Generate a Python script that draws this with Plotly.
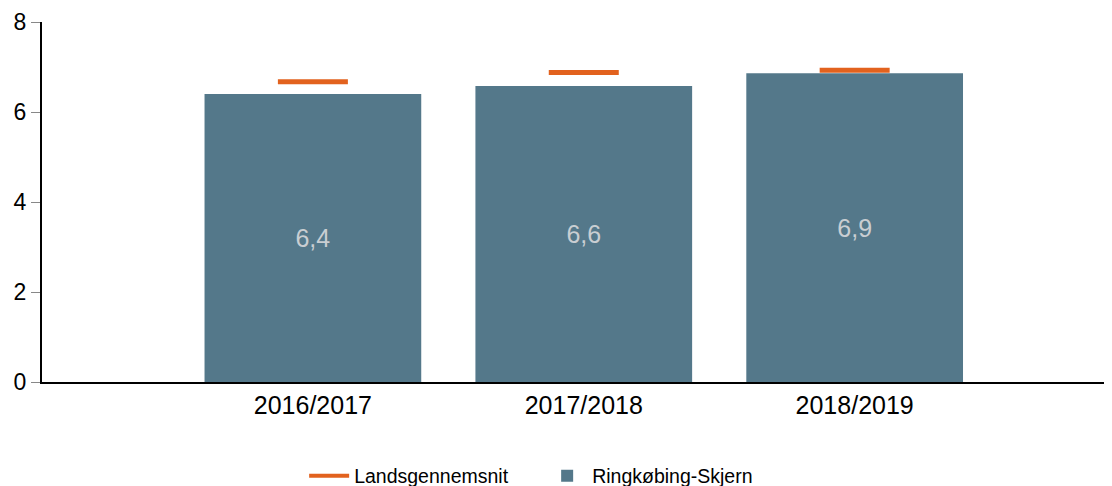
import plotly.graph_objects as go

categories = ["2016/2017", "2017/2018", "2018/2019"]
kommune_values = [6.4, 6.58, 6.86]
lands_values = [6.67, 6.88, 6.93]
kommune_name = "Ringkøbing-Skjern"
lands_name = "Landsgennemsnit"

bar_color = "#54788A"
orange = "#E2621E"
font_family = "Arial, Liberation Sans, sans-serif"

fig = go.Figure()

fig.add_trace(go.Bar(
    x=categories, y=kommune_values, name=kommune_name,
    marker=dict(color=bar_color, line=dict(width=0)),
    width=0.8,
    texttemplate="%{y:.1f}", textposition="inside",
    insidetextanchor="middle",
    textfont=dict(color="#C9CED2", size=25, family=font_family),
))
fig.add_trace(go.Scatter(
    x=categories, y=lands_values, mode="markers", name=lands_name,
    marker=dict(symbol="line-ew", size=50, color=orange,
                line=dict(color=orange, width=5)),
    showlegend=False, hoverinfo="skip",
))
fig.add_trace(go.Scatter(
    x=[None], y=[None], mode="lines", name=lands_name,
    line=dict(color=orange, width=4),
))

# page body has an 8px default margin, so the figure is sized to compensate
fig.update_layout(
    width=1104, height=478,
    margin=dict(l=34, r=0, t=14, b=104, autoexpand=False),
    plot_bgcolor="white", paper_bgcolor="white",
    separators=",.",
    font=dict(family=font_family, size=20, color="#000000"),
    legend=dict(orientation="h", x=0.245, xanchor="left",
                yref="container", y=0.021, yanchor="middle",
                font=dict(size=19.5, family=font_family), traceorder="reversed",
                itemwidth=40, entrywidth=183, entrywidthmode="pixels"),
    showlegend=True,
)
fig.update_xaxes(
    range=[-1.0, 2.95], showline=True, linecolor="#000000", linewidth=2,
    ticks="", showgrid=False, tickfont=dict(size=25), zeroline=False,
    automargin=False,
)
fig.update_yaxes(
    range=[0, 8], dtick=2, showline=True, linecolor="#000000", linewidth=2,
    ticks="outside", ticklen=9, tickcolor="#888888", tickwidth=1,
    showgrid=False, zeroline=False, tickfont=dict(size=23),
    automargin=False,
)

fig.write_html("out.html")
